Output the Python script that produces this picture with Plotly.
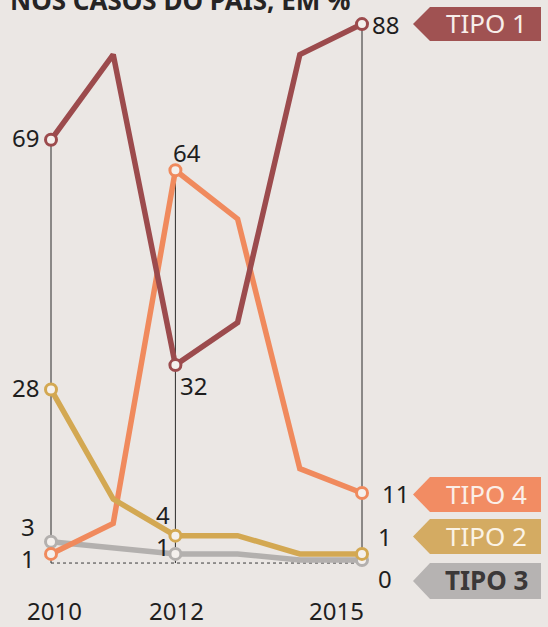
import plotly.graph_objects as go

# Share of cases per type, in % (2010-2015)
years = [2010, 2011, 2012, 2013, 2014, 2015]
tipo1 = [69, 83, 32, 39, 83, 88]
tipo4 = [1, 6, 64, 56, 15, 11]
tipo2 = [28, 10, 4, 4, 1, 1]
tipo3 = [3, 2, 1, 1, 0, 0]

series_names = ["TIPO 1", "TIPO 4", "TIPO 2", "TIPO 3"]
marked_years = [2010, 2012, 2015]
year_labels = ["2010", "2012", "2015"]
title_text = "NOS CASOS DO PAÍS, EM %"

W, H = 548, 627
BG = "#ebe7e4"
FILL = "#f4f0ed"
FONT = "Noto Sans"

colors = {
    "TIPO 1": "#9c4b4d",
    "TIPO 4": "#f08a5d",
    "TIPO 2": "#d3a852",
    "TIPO 3": "#b3b0ae",
}
tag_colors = {
    "TIPO 1": "#a05252",
    "TIPO 4": "#f28c63",
    "TIPO 2": "#d4ab62",
    "TIPO 3": "#b6b3b2",
}
tag_text_colors = {
    "TIPO 1": "#f7eeea",
    "TIPO 4": "#fbefe8",
    "TIPO 2": "#fbf3e6",
    "TIPO 3": "#3b3838",
}
values = {"TIPO 1": tipo1, "TIPO 4": tipo4, "TIPO 2": tipo2, "TIPO 3": tipo3}

# axis ranges chosen so the plot fills the whole page
px_per_year = 62.2
px_per_unit = 6.09
x0 = 2010 - 51 / px_per_year
x1 = x0 + W / px_per_year
y_top = 560 / px_per_unit
y_bot = -(H - 560) / px_per_unit


def pxx(px):
    return px / W


def pxy(py):
    return 1 - py / H


fig = go.Figure()

# thin guide lines down from the labelled points
shapes = []
guide_points = [(2010, tipo1[0]), (2012, tipo4[2]), (2015, tipo1[5])]
for gx, gy in guide_points:
    shapes.append(dict(type="line", xref="x", yref="y", x0=gx, x1=gx, y0=-0.5, y1=gy,
                       line=dict(color="#2b2b2b", width=1), layer="below"))
shapes.append(dict(type="line", xref="x", yref="y", x0=2010, x1=2015, y0=-0.5, y1=-0.5,
                   line=dict(color="#3a3a3a", width=1, dash="dot"), layer="below"))

# series lines, bottom-most first
for name in ["TIPO 3", "TIPO 4", "TIPO 2", "TIPO 1"]:
    fig.add_trace(go.Scatter(x=years, y=values[name], mode="lines",
                             line=dict(color=colors[name], width=5.5),
                             hoverinfo="skip", showlegend=False))

for name in ["TIPO 3", "TIPO 4", "TIPO 2", "TIPO 1"]:
    ys = [values[name][years.index(y)] for y in marked_years]
    fig.add_trace(go.Scatter(x=marked_years, y=ys, mode="markers",
                             marker=dict(symbol="circle", size=11, color=FILL,
                                         line=dict(color=colors[name], width=3)),
                             hoverinfo="skip", showlegend=False))

annotations = []


def label(x, y, text, xanchor="center", xshift=0, yshift=0, size=24):
    annotations.append(dict(x=x, y=y, xref="x", yref="y", text=text, showarrow=False,
                            xanchor=xanchor, yanchor="middle", xshift=xshift, yshift=yshift,
                            font=dict(family=FONT, size=size, color="#1e1e1e")))


# left-hand values (2010)
label(2010, tipo1[0], str(tipo1[0]), "right", -10, 2)
label(2010, tipo2[0], str(tipo2[0]), "right", -10, 2)
label(2010, tipo3[0], str(tipo3[0]), "right", -14, 15)
label(2010, tipo4[0], str(tipo4[0]), "right", -14, -5)

# middle values (2012)
label(2012, tipo4[2], str(tipo4[2]), "center", 12, 18)
label(2012, tipo1[2], str(tipo1[2]), "left", 3, -20)
label(2012, tipo2[2], str(tipo2[2]), "right", -3, 21)
label(2012, tipo3[2], str(tipo3[2]), "right", -3, 7)

# right-hand values (2015)
label(2015, tipo1[5], str(tipo1[5]), "left", 8, 0)
label(2015, tipo4[5], str(tipo4[5]), "left", 18, 0)
label(2015, tipo2[5], str(tipo2[5]), "left", 14, 17)
label(2015, tipo3[5], str(tipo3[5]), "left", 14, -18)

# year labels
for yr, txt, anchor, shift in zip(marked_years, year_labels, ["center", "center", "right"], [3, 1, 4]):
    annotations.append(dict(x=yr, y=pxy(610), xref="x", yref="paper", text=txt, showarrow=False,
                            xanchor=anchor, yanchor="middle", xshift=shift,
                            font=dict(family=FONT, size=24, color="#1e1e1e")))

# series tags on the right
tag_rows = {"TIPO 1": (7, 41), "TIPO 4": (477, 512), "TIPO 2": (519, 554), "TIPO 3": (563, 599)}
tip_x, body_x, right_x = 413, 430, 541
for name in series_names:
    top, bot = tag_rows[name]
    mid = (top + bot) / 2
    path = (f"M {pxx(tip_x)} {pxy(mid)} L {pxx(body_x)} {pxy(top)} L {pxx(right_x)} {pxy(top)} "
            f"L {pxx(right_x)} {pxy(bot)} L {pxx(body_x)} {pxy(bot)} Z")
    shapes.append(dict(type="path", xref="paper", yref="paper", path=path,
                       fillcolor=tag_colors[name], line=dict(width=0), layer="above"))
    annotations.append(dict(x=pxx(486), y=pxy(mid), xref="paper", yref="paper", text=name,
                            showarrow=False, xanchor="center", yanchor="middle", yshift=1,
                            font=dict(family=FONT, size=26, color=tag_text_colors[name],
                                      weight="bold" if name == "TIPO 3" else "normal")))

# heading, running off the top edge
annotations.append(dict(x=pxx(8), y=pxy(20), xref="paper", yref="paper", text=title_text,
                        showarrow=False, xanchor="left", yanchor="bottom",
                        font=dict(family=FONT, size=26, color="#262424", weight="bold")))

fig.update_layout(
    width=W, height=H,
    margin=dict(l=0, r=0, t=0, b=0),
    paper_bgcolor=BG, plot_bgcolor=BG,
    xaxis=dict(range=[x0, x1], visible=False, fixedrange=True),
    yaxis=dict(range=[y_bot, y_top], visible=False, fixedrange=True),
    shapes=shapes, annotations=annotations,
    showlegend=False,
)

fig.write_html("out.html")
